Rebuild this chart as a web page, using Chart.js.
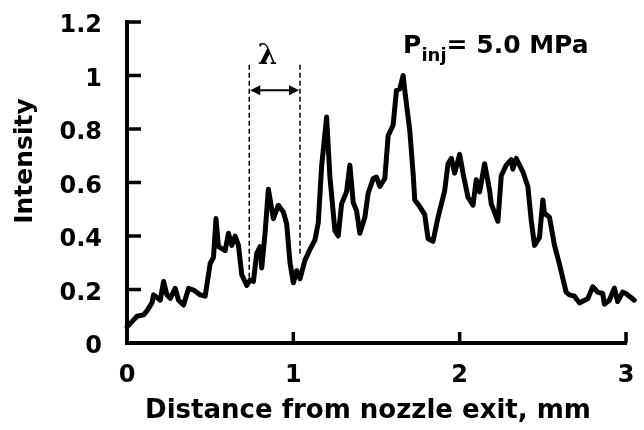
<!DOCTYPE html>
<html>
<head>
<meta charset="utf-8">
<script src="https://cdn.jsdelivr.net/npm/chart.js@4/dist/chart.umd.min.js"></script>
<style>
  body { margin: 0; background: #ffffff; }
  #caja { width: 644px; height: 430px; }
</style>
</head>
<body>
<div id="caja"><canvas id="grafico" width="644" height="430"></canvas></div>
<script>
// Datos (distancia en mm, intensidad normalizada)
const distancia = [
  0.00, 0.03, 0.06, 0.10, 0.12, 0.15, 0.16, 0.19, 0.20, 0.22,
  0.24, 0.26, 0.29, 0.31, 0.34, 0.37, 0.40, 0.44, 0.47, 0.50,
  0.52, 0.535, 0.55, 0.59, 0.61, 0.63, 0.65, 0.67, 0.69, 0.72,
  0.74, 0.76, 0.78, 0.80, 0.81, 0.83, 0.85, 0.88, 0.91, 0.94,
  0.96, 0.98, 1.00, 1.02, 1.04, 1.07, 1.10, 1.13, 1.15, 1.17,
  1.20, 1.22, 1.25, 1.27, 1.29, 1.32, 1.34, 1.36, 1.38, 1.40,
  1.43, 1.45, 1.48, 1.50, 1.52, 1.55, 1.57, 1.60, 1.62, 1.64,
  1.66, 1.67, 1.70, 1.72, 1.73, 1.76, 1.79, 1.81, 1.84, 1.87,
  1.91, 1.93, 1.95, 1.97, 2.00, 2.02, 2.05, 2.08, 2.10, 2.12,
  2.15, 2.18, 2.19, 2.23, 2.25, 2.28, 2.31, 2.32, 2.34, 2.38,
  2.41, 2.43, 2.45, 2.48, 2.50, 2.51, 2.54, 2.57, 2.60, 2.64,
  2.66, 2.69, 2.72, 2.77, 2.80, 2.83, 2.86, 2.87, 2.90, 2.93,
  2.95, 2.98, 3.00, 3.02, 3.05
];
const intensidad = [
  0.06, 0.08, 0.10, 0.105, 0.12, 0.15, 0.18, 0.165, 0.16, 0.23,
  0.18, 0.167, 0.204, 0.16, 0.142, 0.204, 0.198, 0.18, 0.175, 0.297,
  0.32, 0.465, 0.36, 0.345, 0.41, 0.365, 0.40, 0.365, 0.255, 0.215,
  0.235, 0.23, 0.335, 0.36, 0.28, 0.41, 0.575, 0.465, 0.515, 0.49,
  0.445, 0.30, 0.225, 0.27, 0.24, 0.31, 0.35, 0.385, 0.45, 0.66,
  0.845, 0.62, 0.42, 0.40, 0.52, 0.565, 0.665, 0.525, 0.495, 0.41,
  0.47, 0.56, 0.615, 0.62, 0.585, 0.615, 0.775, 0.815, 0.945, 0.95,
  1.00, 0.945, 0.795, 0.635, 0.535, 0.51, 0.48, 0.39, 0.38, 0.47,
  0.57, 0.67, 0.69, 0.635, 0.705, 0.635, 0.545, 0.515, 0.61, 0.565,
  0.67, 0.57, 0.52, 0.455, 0.625, 0.665, 0.685, 0.65, 0.69, 0.64,
  0.585, 0.46, 0.365, 0.395, 0.535, 0.485, 0.47, 0.365, 0.295, 0.19,
  0.18, 0.175, 0.15, 0.165, 0.21, 0.19, 0.185, 0.145, 0.16, 0.205,
  0.155, 0.19, 0.185, 0.175, 0.16
];
const ticksX = [0, 1, 2, 3];
const etiquetasX = ["0", "1", "2", "3"];
const ticksY = [0, 0.2, 0.4, 0.6, 0.8, 1.0, 1.2];
const etiquetasY = ["0", "0.2", "0.4", "0.6", "0.8", "1", "1.2"];
const tituloX = "Distance from nozzle exit, mm";
const tituloY = "Intensity";

// anotacion de la longitud de onda (en unidades de los ejes)
const lambdaDesde = 0.735, lambdaHasta = 1.04;
const lambdaFinIzq = 0.245, lambdaFinDer = 0.33;
const lambdaTope = 1.04, lambdaFlecha = 0.945;

const getElemento = (id) => document.getElementById(id);
const fuente = (tam, peso = "bold", familia = "DejaVu Sans") => `${peso} ${tam}px "${familia}"`;

function punta(ctx, x, y, dir) {/* punta de flecha rellena */
  ctx.beginPath();
  ctx.moveTo(x, y);
  ctx.lineTo(x - dir * 10, y - 5);
  ctx.lineTo(x - dir * 10, y + 5);
  ctx.closePath();
  ctx.fill();
}

const anotaciones = {
  id: "anotaciones",
  afterDraw(chart) {
    const { ctx, chartArea: area, scales: { x, y } } = chart;
    ctx.save();
    ctx.strokeStyle = "#000";
    ctx.fillStyle = "#000";

    // marcas de los ejes hacia adentro
    ctx.lineWidth = 3.5;
    ctx.beginPath();
    ticksY.slice(1).forEach(v => {
      const py = y.getPixelForValue(v);
      ctx.moveTo(area.left, py);
      ctx.lineTo(area.left + 14, py);
    });
    ticksX.slice(1).forEach(v => {
      const px = x.getPixelForValue(v);
      ctx.moveTo(px, area.bottom);
      ctx.lineTo(px, area.bottom - 11);
    });
    ctx.stroke();

    // lineas punteadas
    const xa = x.getPixelForValue(lambdaDesde);
    const xb = x.getPixelForValue(lambdaHasta);
    ctx.lineWidth = 1.5;
    ctx.setLineDash([5, 3]);
    ctx.beginPath();
    ctx.moveTo(xa, y.getPixelForValue(lambdaTope));
    ctx.lineTo(xa, y.getPixelForValue(lambdaFinIzq));
    ctx.moveTo(xb, y.getPixelForValue(lambdaTope));
    ctx.lineTo(xb, y.getPixelForValue(lambdaFinDer));
    ctx.stroke();
    ctx.setLineDash([]);

    // flecha doble
    const yf = y.getPixelForValue(lambdaFlecha);
    ctx.lineWidth = 2;
    ctx.beginPath();
    ctx.moveTo(xa + 4, yf);
    ctx.lineTo(xb - 4, yf);
    ctx.stroke();
    punta(ctx, xa + 1, yf, -1);
    punta(ctx, xb - 1, yf, 1);

    // textos
    ctx.textBaseline = "middle";
    ctx.textAlign = "center";
    ctx.font = fuente(28, "bold", "DejaVu Serif");
    ctx.fillText("\u03bb", x.getPixelForValue(0.845), y.getPixelForValue(1.07));

    ctx.textBaseline = "alphabetic";
    ctx.textAlign = "left";
    let px = x.getPixelForValue(1.66);
    const base = y.getPixelForValue(1.085);
    ctx.font = fuente(25);
    ctx.fillText("P", px, base);
    px += ctx.measureText("P").width;
    ctx.font = fuente(18);
    ctx.fillText("inj", px, base + 8);
    px += ctx.measureText("inj").width;
    ctx.font = fuente(25);
    ctx.fillText("= 5.0 MPa", px, base);

    // titulos de ejes
    ctx.textAlign = "center";
    ctx.font = fuente(26);
    ctx.fillText(tituloX, 368, 418);
    ctx.translate(32, 161);
    ctx.rotate(-Math.PI / 2);
    ctx.font = fuente(25);
    ctx.fillText(tituloY, 0, 0);
    ctx.restore();
  }
};

const ctx = getElemento("grafico").getContext("2d");
new Chart(ctx, {
  type: "line",
  data: {
    datasets: [{
      label: tituloY,
      data: distancia.map((d, i) => ({ x: d, y: intensidad[i] })),
      borderColor: "#000000",
      borderWidth: 5,
      borderJoinStyle: "round",
      borderCapStyle: "round",
      tension: 0,
      pointRadius: 0,
      fill: false,
      clip: false
    }]
  },
  options: {
    responsive: false,
    animation: false,
    events: [],
    layout: { padding: { left: 0, top: 22, right: 18, bottom: 0 } },
    plugins: { legend: { display: false }, tooltip: { enabled: false } },
    scales: {
      x: {
        type: "linear",
        afterDataLimits: (s) => { s.min = 0; s.max = 3; },
        afterBuildTicks: (s) => { s.ticks = ticksX.map(v => ({ value: v })); },
        afterFit: (s) => { s.height = 87; s.paddingLeft = 0; s.paddingRight = 0; },
        grid: { display: false, drawTicks: false },
        border: { display: true, color: "#000", width: 4 },
        ticks: {
          color: "#000",
          padding: 18,
          maxRotation: 0,
          font: { family: "DejaVu Sans", weight: "bold", size: 24 },
          callback: (v, i) => etiquetasX[i]
        }
      },
      y: {
        min: 0,
        max: 1.2,
        afterBuildTicks: (s) => { s.ticks = ticksY.map(v => ({ value: v })); },
        afterFit: (s) => { s.width = 127; s.paddingTop = 0; s.paddingBottom = 0; },
        grid: { display: false, drawTicks: false },
        border: { display: true, color: "#000", width: 4 },
        ticks: {
          color: "#000",
          padding: 25,
          labelOffset: 4,
          font: { family: "DejaVu Sans", weight: "bold", size: 24 },
          callback: (v, i) => etiquetasY[i]
        }
      }
    }
  },
  plugins: [anotaciones]
});
</script>
</body>
</html>
